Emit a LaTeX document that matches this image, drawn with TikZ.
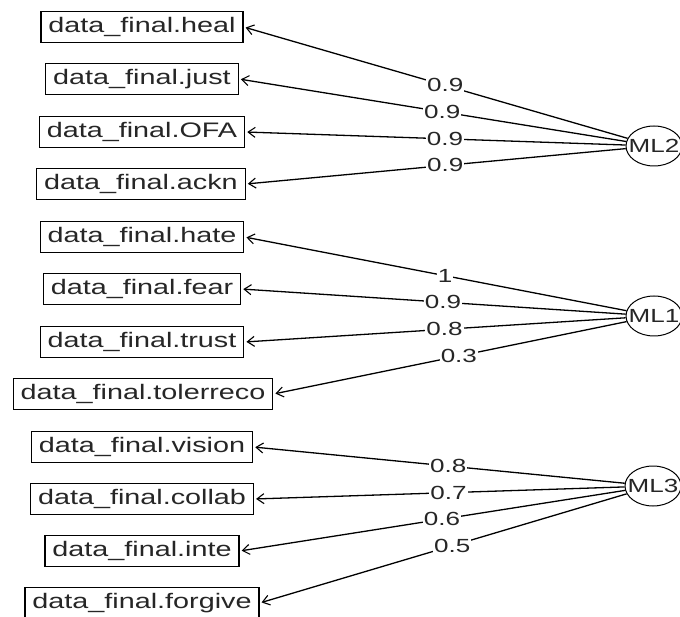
\documentclass[tikz,border=0pt]{standalone}
\usepackage{fontspec}
\setmainfont{Liberation Sans}
\usetikzlibrary{shapes.geometric,arrows.meta}
\newcommand{\bxt}[1]{\scalebox{1.37}[1]{\fontsize{21}{24}\selectfont #1}}
\newcommand{\lbt}[1]{\scalebox{1.37}[1]{\fontsize{19}{21}\selectfont #1}}
\definecolor{ink}{gray}{0.15}
\tikzset{
  obs/.style={draw, line width=1.2pt, inner xsep=7.5pt, inner ysep=6pt, text height=15pt, text depth=4pt, text=ink},
  lat/.style={draw, ellipse, line width=1pt, minimum width=56pt, minimum height=40pt, inner sep=0pt},
  arr/.style={line width=1.3pt, -{Straight Barb[length=7pt,width=10pt,line width=1.1pt]}, shorten >=2pt},
  lab/.style={fill=white, inner sep=1pt, pos=0.475, text=ink}
}
\begin{document}
\begin{tikzpicture}[x=1pt,y=-1pt]
\useasboundingbox (0,0) rectangle (680,617);
\fill[white] (0,0) rectangle (680,617);
% observed variables
\node[obs] (heal) at (142,27) {\bxt{data\_final.heal}};
\node[obs] (just) at (142,79) {\bxt{data\_final.just}};
\node[obs] (OFA) at (142,132) {\bxt{data\_final.OFA}};
\node[obs] (ackn) at (141,184) {\bxt{data\_final.ackn}};
\node[obs] (hate) at (142,237) {\bxt{data\_final.hate}};
\node[obs] (fear) at (142,289) {\bxt{data\_final.fear}};
\node[obs] (trust) at (142,342) {\bxt{data\_final.trust}};
\node[obs] (toler) at (143,394) {\bxt{data\_final.tolerreco}};
\node[obs] (vision) at (142,447) {\bxt{data\_final.vision}};
\node[obs] (collab) at (142,499) {\bxt{data\_final.collab}};
\node[obs] (inte) at (142,551) {\bxt{data\_final.inte}};
\node[obs] (forgive) at (142,603) {\bxt{data\_final.forgive}};
% latent variables
\node[lat, label={[text=ink]center:\lbt{ML2}}] (ML2) at (654,146) {};
\node[lat, label={[text=ink]center:\lbt{ML1}}] (ML1) at (654,316) {};
\node[lat, label={[text=ink]center:\lbt{ML3}}] (ML3) at (653,486) {};
% loadings
\draw[arr] (ML2) -- node[lab]{\lbt{0.9}} (heal.east);
\draw[arr] (ML2) -- node[lab]{\lbt{0.9}} (just.east);
\draw[arr] (ML2) -- node[lab]{\lbt{0.9}} (OFA.east);
\draw[arr] (ML2) -- node[lab]{\lbt{0.9}} (ackn.east);
\draw[arr] (ML1) -- node[lab]{\lbt{1}} (hate.east);
\draw[arr] (ML1) -- node[lab]{\lbt{0.9}} (fear.east);
\draw[arr] (ML1) -- node[lab]{\lbt{0.8}} (trust.east);
\draw[arr] (ML1) -- node[lab]{\lbt{0.3}} (toler.east);
\draw[arr] (ML3) -- node[lab]{\lbt{0.8}} (vision.east);
\draw[arr] (ML3) -- node[lab]{\lbt{0.7}} (collab.east);
\draw[arr] (ML3) -- node[lab]{\lbt{0.6}} (inte.east);
\draw[arr] (ML3) -- node[lab]{\lbt{0.5}} (forgive.east);
\end{tikzpicture}
\end{document}
